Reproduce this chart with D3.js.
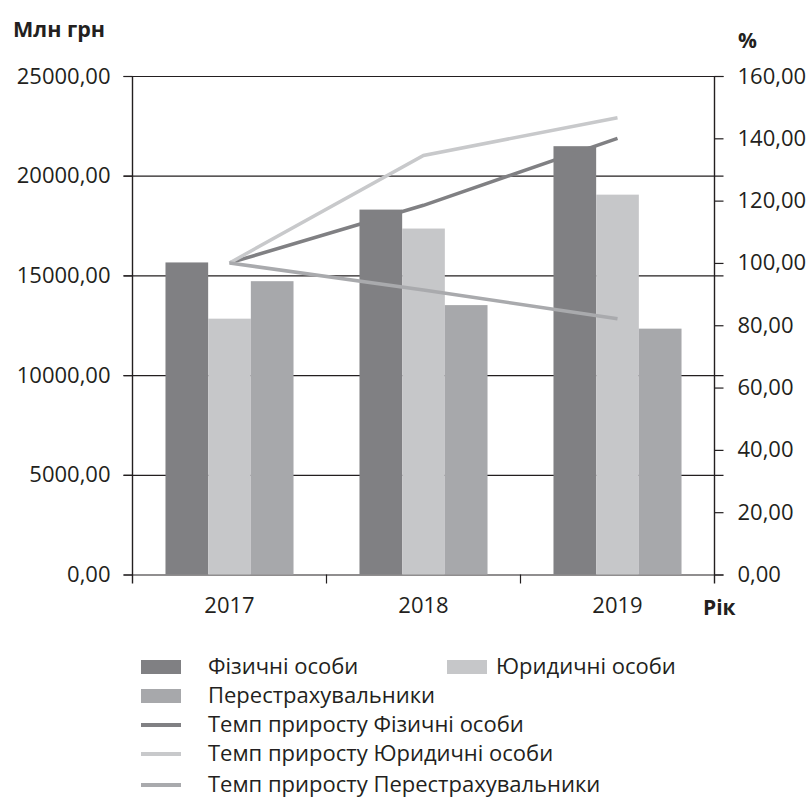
<!DOCTYPE html>
<html>
<head>
<meta charset="utf-8">
<script src="https://cdn.jsdelivr.net/npm/d3@7"></script>
<style>
  body { margin: 0; background: #fff; }
  text { font-family: "Open Sans", sans-serif; fill: #231f20; }
</style>
</head>
<body>
<div id="wrapper"></div>
<script>
// data
const years = ["2017", "2018", "2019"]
const seriesNames = ["Фізичні особи", "Юридичні особи", "Перестрахувальники"]
const fizValues = [15650, 18300, 21480]
const yurValues = [12830, 17350, 19050]
const perValues = [14710, 13510, 12330]
const fizGrowth = [100, 118.5, 140.0]
const yurGrowth = [100, 134.5, 146.6]
const perGrowth = [100, 91.3, 82.1]
const leftTicks = [0, 5000, 10000, 15000, 20000, 25000]
const rightTicks = [0, 20, 40, 60, 80, 100, 120, 140, 160]
const lineNames = [
  "Темп приросту Фізичні особи",
  "Темп приросту Юридичні особи",
  "Темп приросту Перестрахувальники",
]

function drawChart() {
  const barColors = ["#808083", "#c6c7c9", "#a7a8ab"]
  const lineColors = ["#808083", "#c8c9cb", "#a9aaad"]

  let dimensions = {
    width: 808,
    height: 801,
    margin: { top: 76, right: 93.5, bottom: 226.5, left: 132.5 },
  }
  dimensions.boundedWidth = dimensions.width
    - dimensions.margin.left
    - dimensions.margin.right
  dimensions.boundedHeight = dimensions.height
    - dimensions.margin.top
    - dimensions.margin.bottom

  const wrapper = d3.select("#wrapper")
    .append("svg")
      .attr("width", dimensions.width)
      .attr("height", dimensions.height)

  const bounds = wrapper.append("g")
      .attr("transform", `translate(${dimensions.margin.left}, ${dimensions.margin.top})`)

  // scales
  const xScale = d3.scaleBand()
    .domain(years)
    .range([0, dimensions.boundedWidth])

  const step = xScale.bandwidth()
  const xInner = d3.scaleBand()
    .domain(seriesNames)
    .range([step * 0.17, step * 0.83])

  const yScale = d3.scaleLinear()
    .domain([0, 25000])
    .range([dimensions.boundedHeight, 0])

  const yRight = d3.scaleLinear()
    .domain([0, 160])
    .range([dimensions.boundedHeight, 0])

  const ext = 9

  // gridlines (stick out on both sides like in the source)
  const gridGen = d3.axisLeft(yScale)
    .tickValues(leftTicks)
    .tickSize(-(dimensions.boundedWidth + 2 * ext))
    .tickFormat("")
  const grid = bounds.append("g")
    .attr("transform", `translate(${-ext}, 0)`)
    .call(gridGen)
  grid.select(".domain").remove()
  grid.selectAll(".tick line").attr("stroke", "#231f20").attr("stroke-width", 1.2)

  // bars
  const barData = [fizValues, yurValues, perValues]
  const groups = bounds.selectAll(".year")
    .data(years)
    .join("g")
      .attr("class", "year")
      .attr("transform", d => `translate(${xScale(d)}, 0)`)

  groups.selectAll("rect")
    .data((yr, i) => seriesNames.map((name, s) => ({ name, s, value: barData[s][i] })))
    .join("rect")
      .attr("x", d => xInner(d.name))
      .attr("width", xInner.bandwidth())
      .attr("y", d => yScale(d.value))
      .attr("height", d => dimensions.boundedHeight - yScale(d.value))
      .attr("fill", d => barColors[d.s])

  // growth lines on the right axis
  const growthData = [fizGrowth, yurGrowth, perGrowth]
  const lineGen = d3.line()
    .x((d, i) => xScale(years[i]) + step / 2)
    .y(d => yRight(d))

  bounds.selectAll(".growth")
    .data(growthData)
    .join("path")
      .attr("class", "growth")
      .attr("d", d => lineGen(d))
      .attr("fill", "none")
      .attr("stroke", (d, i) => lineColors[i])
      .attr("stroke-width", 3.5)

  // left axis
  const yAxisGen = d3.axisLeft(yScale)
    .tickValues(leftTicks)
    .tickSize(ext)
    .tickSizeOuter(0)
    .tickPadding(13)
    .tickFormat(d => d3.format(".2f")(d).replace(".", ","))
  const yAxis = bounds.append("g").call(yAxisGen)
  yAxis.selectAll("text").style("font-size", "22px")

  // right axis
  const yRightGen = d3.axisRight(yRight)
    .tickValues(rightTicks)
    .tickSize(ext)
    .tickSizeOuter(0)
    .tickPadding(14)
    .tickFormat(d => d3.format(".2f")(d).replace(".", ","))
  const yAxisRight = bounds.append("g")
    .attr("transform", `translate(${dimensions.boundedWidth}, 0)`)
    .call(yRightGen)
  yAxisRight.selectAll("text").style("font-size", "22px")

  // axis lines run a bit below the x axis
  ;[yAxis, yAxisRight].forEach(g => {
    g.select(".domain").remove()
    g.selectAll(".tick line").attr("stroke", "#231f20").attr("stroke-width", 1.2)
    g.append("line")
      .attr("y1", 0)
      .attr("y2", dimensions.boundedHeight + ext)
      .attr("stroke", "#231f20")
      .attr("stroke-width", 1.4)
  })

  // x axis: labels at centers, ticks at category boundaries
  const xAxisGen = d3.axisBottom(xScale)
    .tickSize(0)
    .tickPadding(23)
  const xAxis = bounds.append("g")
    .attr("transform", `translate(0, ${dimensions.boundedHeight})`)
    .call(xAxisGen)
  xAxis.select(".domain").remove()
  xAxis.selectAll("text").style("font-size", "22px")

  xAxis.selectAll(".boundary")
    .data(years.slice(1))
    .join("line")
      .attr("class", "boundary")
      .attr("x1", d => xScale(d))
      .attr("x2", d => xScale(d))
      .attr("y1", 0)
      .attr("y2", ext)
      .attr("stroke", "#231f20")
      .attr("stroke-width", 1.2)

  // axis titles
  wrapper.append("text")
    .attr("x", 13)
    .attr("y", 37)
    .style("font-size", "21.5px")
    .style("font-weight", "bold")
    .text("Млн грн")

  wrapper.append("text")
    .attr("x", 738)
    .attr("y", 48)
    .style("font-size", "21px")
    .style("font-weight", "bold")
    .text("%")

  wrapper.append("text")
    .attr("x", 703)
    .attr("y", 615)
    .style("font-size", "21px")
    .style("font-weight", "bold")
    .text("Рік")

  // legend
  const legend = wrapper.append("g")
  const legendItems = [
    { label: seriesNames[0], kind: "bar", color: barColors[0], x: 141, y: 667 },
    { label: seriesNames[1], kind: "bar", color: barColors[1], x: 447, y: 667 },
    { label: seriesNames[2], kind: "bar", color: barColors[2], x: 141, y: 696 },
    { label: lineNames[0], kind: "line", color: lineColors[0], x: 141, y: 725 },
    { label: lineNames[1], kind: "line", color: lineColors[1], x: 141, y: 754 },
    { label: lineNames[2], kind: "line", color: lineColors[2], x: 141, y: 785 },
  ]

  const item = legend.selectAll("g")
    .data(legendItems)
    .join("g")
      .attr("transform", d => `translate(${d.x}, ${d.y})`)

  item.filter(d => d.kind === "bar").append("rect")
    .attr("x", 0)
    .attr("y", -7)
    .attr("width", 40)
    .attr("height", 14)
    .attr("fill", d => d.color)

  item.filter(d => d.kind === "line").append("rect")
    .attr("x", 0)
    .attr("y", -2)
    .attr("width", 40)
    .attr("height", 4)
    .attr("fill", d => d.color)

  item.append("text")
    .attr("x", d => d.x === 141 ? 67 : 49)
    .attr("dy", "0.3em")
    .style("font-size", "22px")
    .text(d => d.label)
}

drawChart()
</script>
</body>
</html>
